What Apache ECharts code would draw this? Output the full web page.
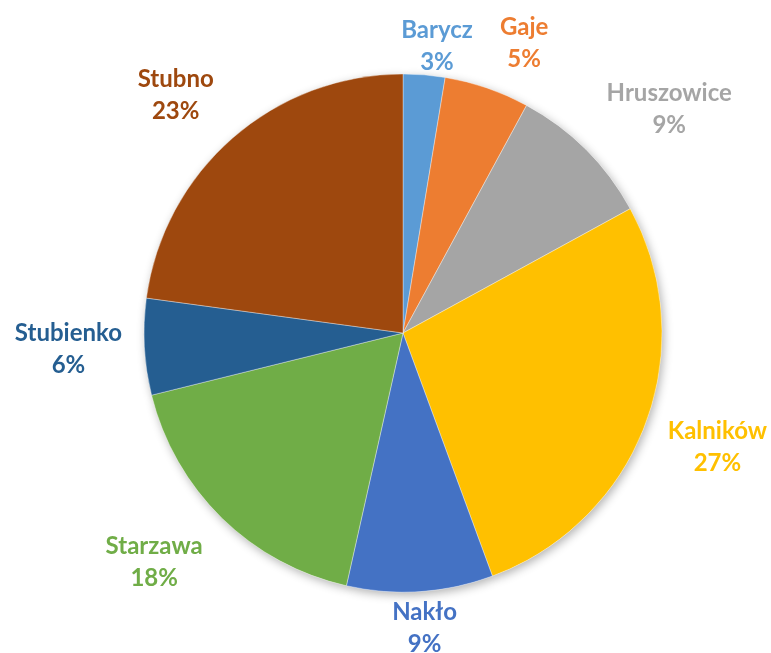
<!DOCTYPE html>
<html>
<head>
<meta charset="utf-8">
<script src="https://cdn.jsdelivr.net/npm/echarts@6/dist/echarts.min.js"></script>
<style>
  html, body { margin: 0; padding: 0; background: #fff; }
  #main { width: 771px; height: 653px; }
</style>
</head>
<body>
<div id="main"></div>
<script>
const names = ["Barycz", "Gaje", "Hruszowice", "Kalników", "Nakło", "Starzawa", "Stubienko", "Stubno"];
const values = [2.6, 5.3, 9.1, 27.3, 9.1, 17.6, 6.0, 22.8];
const colors = ["#5B9BD5", "#ED7D31", "#A5A5A5", "#FFC000", "#4472C4", "#70AD47", "#255E91", "#9E480E"];

const cx = 403, cy = 333, R = 259;
const total = values.reduce((a, b) => a + b, 0);
const deg = Math.PI / 180;

// mid angle of each slice, clockwise from 12 o'clock
const midAngles = [];
let acc = 0;
values.forEach(v => {
  midAngles.push((acc + v / 2) / total * Math.PI * 2);
  acc += v;
});

// distance from pie centre to the nearest point of a w x h box centred at (x, y)
function boxDist(x, y, w, h) {
  const dx = Math.max(Math.abs(x) - w / 2, 0);
  const dy = Math.max(Math.abs(y) - h / 2, 0);
  return Math.hypot(dx, dy);
}

const chart = echarts.init(document.getElementById("main"));

chart.setOption({
  animation: false,
  series: [
    {
      // soft halo under the pie (hidden behind the real slices)
      type: "pie",
      silent: true,
      z: 1,
      center: [cx, cy],
      radius: R,
      startAngle: 90,
      data: values.map(v => ({ value: v })),
      itemStyle: {
        color: "#fff",
        shadowBlur: 10,
        shadowOffsetX: 2,
        shadowOffsetY: 3,
        shadowColor: "rgba(0,0,0,0.3)"
      },
      label: { show: false },
      labelLine: { show: false },
      emphasis: { disabled: true }
    },
    {
      type: "pie",
      z: 2,
      center: [cx, cy],
      radius: R,
      startAngle: 90,
      clockwise: true,
      data: names.map((n, i) => ({
        name: n,
        value: values[i],
        itemStyle: { color: colors[i] },
        label: { color: colors[i] }
      })),
      itemStyle: { borderColor: "rgba(255,255,255,0.6)", borderWidth: 0.6 },
      labelLine: { show: false },
      label: {
        show: true,
        position: "outside",
        overflow: "none",
        fontFamily: "Lato",
        fontWeight: "bold",
        fontSize: 24,
        lineHeight: 32,
        align: "center",
        formatter: p => p.name + "\n" + Math.round(p.percent) + "%"
      },
      // put each label just outside the rim, near the slice's middle,
      // nudged a little towards the horizontal like Excel does
      labelLayout: function (params) {
        const m = midAngles[params.dataIndex];
        const t = m + 3 * deg * Math.sin(2 * m);
        const ux = Math.sin(t), uy = -Math.cos(t);
        const w = params.labelRect.width, h = params.labelRect.height;
        let lo = 0, hi = R + 400;
        for (let k = 0; k < 40; k++) {
          const d = (lo + hi) / 2;
          const gap = Math.abs(ux * d) < w / 2 ? 4 : 22;
          if (boxDist(ux * d, uy * d, w, h) < R + gap) lo = d; else hi = d;
        }
        // upper-right labels sit a bit lower and further right in the original
        const sx = 8 * Math.max(0, Math.cos(m - 30 * deg));
        const sy = 10 * Math.sqrt(Math.max(0, Math.cos(m - 50 * deg)));
        // keep the label inside the canvas
        const x = Math.min(cx + ux * hi + sx, 771 - w / 2 - 4);
        return {
          x: x,
          y: cy + uy * hi + sy,
          align: "center",
          verticalAlign: "middle"
        };
      }
    }
  ]
});
</script>
</body>
</html>
